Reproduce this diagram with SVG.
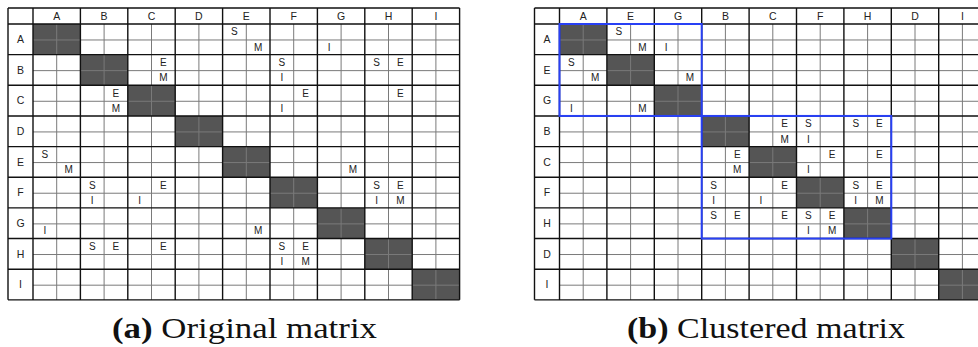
<svg xmlns="http://www.w3.org/2000/svg" xmlns:xlink="http://www.w3.org/1999/xlink" width="978" height="347" viewBox="0 0 978 347">
<style>
.fill{fill:#555555}
.sub{stroke:#7a7a7a;stroke-width:1;fill:none}
.maj{stroke:#111111;stroke-width:1.4;fill:none}
.hd{font-family:"Liberation Sans",Arial,sans-serif;font-size:10.5px;fill:#222;text-anchor:middle}
.c{font-family:"Liberation Sans",Arial,sans-serif;font-size:10px;fill:#222;text-anchor:middle}
.cap{font-family:"Liberation Serif","Times New Roman",serif;font-size:29px;fill:#111}
.clu{fill:none;stroke:#2840f5;stroke-width:2}
</style>
<defs>
<g id="grid">
<rect x="0" y="0" width="451.6" height="291.85" fill="#ffffff"/>
<g class="fill">
<rect x="25" y="16" width="47.4" height="30.65"/>
<rect x="72.4" y="46.65" width="47.4" height="30.65"/>
<rect x="119.8" y="77.3" width="47.4" height="30.65"/>
<rect x="167.2" y="107.95" width="47.4" height="30.65"/>
<rect x="214.6" y="138.6" width="47.4" height="30.65"/>
<rect x="262" y="169.25" width="47.4" height="30.65"/>
<rect x="309.4" y="199.9" width="47.4" height="30.65"/>
<rect x="356.8" y="230.55" width="47.4" height="30.65"/>
<rect x="404.2" y="261.2" width="47.4" height="30.65"/>
</g>
<path class="sub" d="M48.7 16V291.85M96.1 16V291.85M143.5 16V291.85M190.9 16V291.85M238.3 16V291.85M285.7 16V291.85M333.1 16V291.85M380.5 16V291.85M427.9 16V291.85M25 31.975H451.6M25 62.625H451.6M25 93.275H451.6M25 123.925H451.6M25 154.575H451.6M25 185.225H451.6M25 215.875H451.6M25 246.525H451.6M25 277.175H451.6"/>
<path class="maj" d="M0 0H451.6M0 16H451.6M0 46.65H451.6M0 77.3H451.6M0 107.95H451.6M0 138.6H451.6M0 169.25H451.6M0 199.9H451.6M0 230.55H451.6M0 261.2H451.6M0 291.85H451.6M0 0V291.85M25 0V291.85M72.4 0V291.85M119.8 0V291.85M167.2 0V291.85M214.6 0V291.85M262 0V291.85M309.4 0V291.85M356.8 0V291.85M404.2 0V291.85M451.6 0V291.85"/>
</g>
</defs>

<g id="matrix-original" transform="translate(8,8)">
<use xlink:href="#grid" href="#grid"/>
<g id="headers-a">
<text class="hd" x="48.7" y="11.8">A</text><text class="hd" x="96.1" y="11.8">B</text><text class="hd" x="143.5" y="11.8">C</text><text class="hd" x="190.9" y="11.8">D</text><text class="hd" x="238.3" y="11.8">E</text><text class="hd" x="285.7" y="11.8">F</text><text class="hd" x="333.1" y="11.8">G</text><text class="hd" x="380.5" y="11.8">H</text><text class="hd" x="427.9" y="11.8">I</text>
<text class="hd" x="12.5" y="35.1">A</text><text class="hd" x="12.5" y="65.75">B</text><text class="hd" x="12.5" y="96.4">C</text><text class="hd" x="12.5" y="127.05">D</text><text class="hd" x="12.5" y="157.7">E</text><text class="hd" x="12.5" y="188.35">F</text><text class="hd" x="12.5" y="219">G</text><text class="hd" x="12.5" y="249.65">H</text><text class="hd" x="12.5" y="280.3">I</text>
</g>
<g id="cells-a">
<text class="c" x="226.45" y="27.26">S</text><text class="c" x="250.15" y="42.59">M</text><text class="c" x="321.25" y="42.59">I</text>
<text class="c" x="155.35" y="57.91">E</text><text class="c" x="155.35" y="73.24">M</text><text class="c" x="273.85" y="57.91">S</text><text class="c" x="273.85" y="73.24">I</text><text class="c" x="368.65" y="57.91">S</text><text class="c" x="392.35" y="57.91">E</text>
<text class="c" x="107.95" y="88.56">E</text><text class="c" x="107.95" y="103.89">M</text><text class="c" x="297.55" y="88.56">E</text><text class="c" x="273.85" y="103.89">I</text><text class="c" x="392.35" y="88.56">E</text>
<text class="c" x="36.85" y="149.86">S</text><text class="c" x="60.55" y="165.19">M</text><text class="c" x="344.95" y="165.19">M</text>
<text class="c" x="84.25" y="180.51">S</text><text class="c" x="84.25" y="195.84">I</text><text class="c" x="131.65" y="195.84">I</text><text class="c" x="155.35" y="180.51">E</text><text class="c" x="368.65" y="180.51">S</text><text class="c" x="392.35" y="180.51">E</text><text class="c" x="368.65" y="195.84">I</text><text class="c" x="392.35" y="195.84">M</text>
<text class="c" x="36.85" y="226.49">I</text><text class="c" x="250.15" y="226.49">M</text>
<text class="c" x="84.25" y="241.81">S</text><text class="c" x="107.95" y="241.81">E</text><text class="c" x="155.35" y="241.81">E</text><text class="c" x="273.85" y="241.81">S</text><text class="c" x="297.55" y="241.81">E</text><text class="c" x="273.85" y="257.14">I</text><text class="c" x="297.55" y="257.14">M</text>
</g>
</g>

<g id="matrix-clustered" transform="translate(534.5,8)">
<use xlink:href="#grid" href="#grid"/>
<g id="headers-b">
<text class="hd" x="48.7" y="11.8">A</text><text class="hd" x="96.1" y="11.8">E</text><text class="hd" x="143.5" y="11.8">G</text><text class="hd" x="190.9" y="11.8">B</text><text class="hd" x="238.3" y="11.8">C</text><text class="hd" x="285.7" y="11.8">F</text><text class="hd" x="333.1" y="11.8">H</text><text class="hd" x="380.5" y="11.8">D</text><text class="hd" x="427.9" y="11.8">I</text>
<text class="hd" x="12.5" y="35.1">A</text><text class="hd" x="12.5" y="65.75">E</text><text class="hd" x="12.5" y="96.4">G</text><text class="hd" x="12.5" y="127.05">B</text><text class="hd" x="12.5" y="157.7">C</text><text class="hd" x="12.5" y="188.35">F</text><text class="hd" x="12.5" y="219">H</text><text class="hd" x="12.5" y="249.65">D</text><text class="hd" x="12.5" y="280.3">I</text>
</g>
<g id="cells-b">
<text class="c" x="84.25" y="27.26">S</text><text class="c" x="107.95" y="42.59">M</text><text class="c" x="131.65" y="42.59">I</text>
<text class="c" x="36.85" y="57.91">S</text><text class="c" x="60.55" y="73.24">M</text><text class="c" x="155.35" y="73.24">M</text>
<text class="c" x="36.85" y="103.89">I</text><text class="c" x="107.95" y="103.89">M</text>
<text class="c" x="250.15" y="119.21">E</text><text class="c" x="250.15" y="134.54">M</text><text class="c" x="273.85" y="119.21">S</text><text class="c" x="273.85" y="134.54">I</text><text class="c" x="321.25" y="119.21">S</text><text class="c" x="344.95" y="119.21">E</text>
<text class="c" x="202.75" y="149.86">E</text><text class="c" x="202.75" y="165.19">M</text><text class="c" x="297.55" y="149.86">E</text><text class="c" x="273.85" y="165.19">I</text><text class="c" x="344.95" y="149.86">E</text>
<text class="c" x="179.05" y="180.51">S</text><text class="c" x="179.05" y="195.84">I</text><text class="c" x="226.45" y="195.84">I</text><text class="c" x="250.15" y="180.51">E</text><text class="c" x="321.25" y="180.51">S</text><text class="c" x="344.95" y="180.51">E</text><text class="c" x="321.25" y="195.84">I</text><text class="c" x="344.95" y="195.84">M</text>
<text class="c" x="179.05" y="211.16">S</text><text class="c" x="202.75" y="211.16">E</text><text class="c" x="250.15" y="211.16">E</text><text class="c" x="273.85" y="211.16">S</text><text class="c" x="297.55" y="211.16">E</text><text class="c" x="273.85" y="226.49">I</text><text class="c" x="297.55" y="226.49">M</text>
</g>
<g id="clusters">
<rect class="clu" x="25" y="16" width="142.2" height="91.95"/>
<rect class="clu" x="167.2" y="107.95" width="189.6" height="122.6"/>
</g>
</g>

<g id="captions">
<text class="cap" x="112" y="338" textLength="265" lengthAdjust="spacingAndGlyphs"><tspan font-weight="bold">(a)</tspan> Original matrix</text>
<text class="cap" x="627" y="338" textLength="278" lengthAdjust="spacingAndGlyphs"><tspan font-weight="bold">(b)</tspan> Clustered matrix</text>
</g>
</svg>
